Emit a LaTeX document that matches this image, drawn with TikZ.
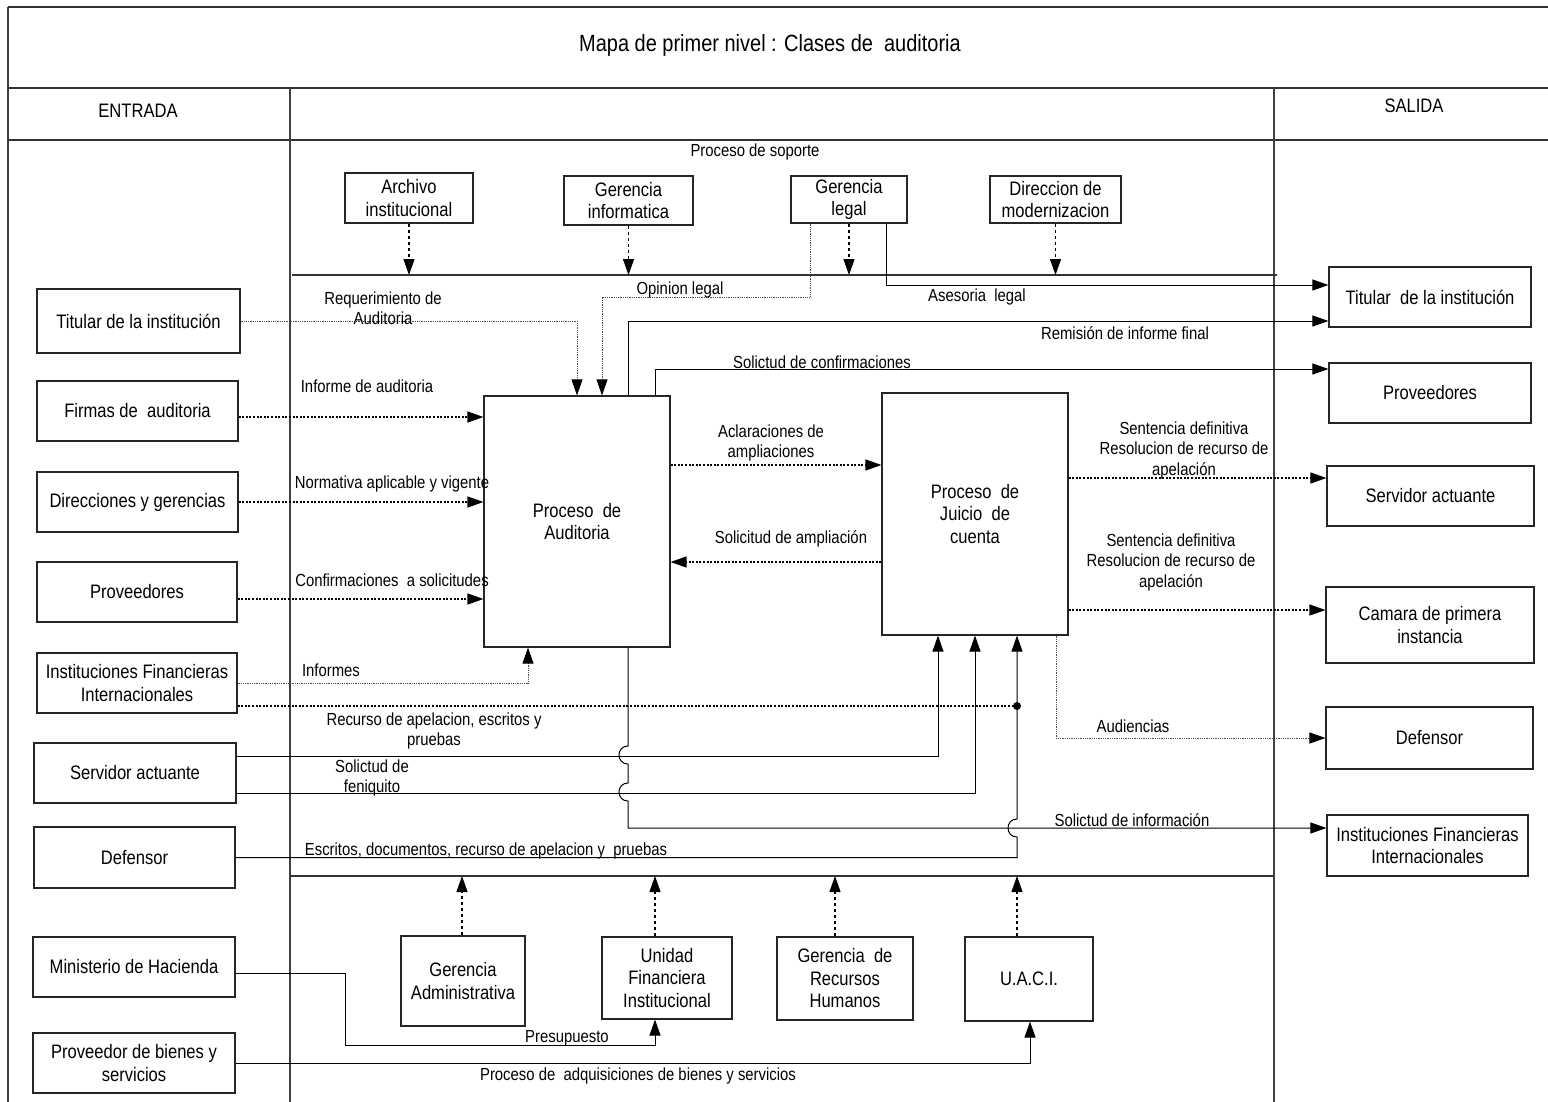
\documentclass[tikz,border=0pt]{standalone}
\usepackage{fontspec}
\setmainfont{Liberation Sans}[FakeStretch=0.85]
\usetikzlibrary{arrows.meta}
\newcommand\mapboxfont{\fontsize{19.5}{22.5}\selectfont}
\newcommand\maplblfont{\fontsize{17.5}{20.5}\selectfont}
\newcommand\maptitlefont{\fontsize{23.5}{27}\selectfont}
\begin{document}
\begin{tikzpicture}[x=1pt,y=-1pt,
  box/.style={draw=black!85, line width=1.1pt, align=center, inner sep=0pt, font=\mapboxfont},
  sz/.style 2 args={minimum width=#1pt, minimum height=#2pt},
  lbl/.style={align=center, inner sep=0pt, font=\maplblfont},
  tip/.style={-{Triangle[length=16pt,width=11pt,color=black]}},
  sol/.style={line width=1pt, black, tip},
  dshl/.style={line width=1.3pt, black, dash pattern=on 2pt off 1.6pt},
  dsh/.style={dshl, tip},
  thn/.style={line width=0.8pt, black!70, dash pattern=on 1pt off 0.8pt, tip},
  sup/.style={line width=1.2pt, black, dash pattern=on 3.5pt off 2.5pt, tip},
  lane/.style={line width=1.9pt, black!80},
  lanev/.style={line width=1.2pt, black!75},
]
\useasboundingbox (0,0) rectangle (1548,1101);

% swimlane frame
\draw[lanev] (8,1105) -- (8,7);
\draw[lane] (8,7) -- (1552,7);
\draw[lane] (8,88) -- (1552,88);
\draw[lane] (8,140) -- (1552,140);
\draw[lanev] (290,88) -- (290,1105);
\draw[lanev] (1274,88) -- (1274,1105);
\draw[lane] (292,275) -- (1277,275);
\draw[lane] (290,876) -- (1274,876);

\node[font=\maptitlefont, inner sep=0pt] (ttl) at (770,45) {Mapa de primer nivel : Clases de~ auditoria};
\node[font=\mapboxfont, inner sep=0pt] (ent) at (138,111) {ENTRADA};
\node[font=\mapboxfont, inner sep=0pt] (sal) at (1414,106) {SALIDA};
\node[lbl] (sop) at (755,152) {Proceso de soporte};

% entradas
\node[box,sz={203}{64}] (tin) at (138.5,321) {Titular de la institución};
\node[box,sz={201}{60}] (fir) at (137.5,411) {Firmas de~ auditoria};
\node[box,sz={201}{60}] (dir) at (137.5,502) {Direcciones y gerencias};
\node[box,sz={200}{60}] (prv) at (137,592) {Proveedores};
\node[box,sz={200}{60}] (ifi) at (137,683) {Instituciones Financieras\\Internacionales};
\node[box,sz={202}{60}] (sra) at (135,773) {Servidor actuante};
\node[box,sz={201}{61}] (dfn) at (134.5,857.5) {Defensor};
\node[box,sz={202}{60}] (mhc) at (134,967) {Ministerio de Hacienda};
\node[box,sz={202}{60}] (pbs) at (134,1063) {Proveedor de bienes y\\servicios};

% procesos de soporte superiores
\node[box,sz={128}{50}] (arch) at (409,198) {Archivo\\institucional};
\node[box,sz={129}{49}] (ginf) at (628.5,200.5) {Gerencia\\informatica};
\node[box,sz={116}{47}] (gleg) at (849,199.5) {Gerencia\\legal};
\node[box,sz={131}{47}] (dmod) at (1055.5,199.5) {Direccion de\\modernizacion};

% procesos principales
\node[box,sz={186}{251}] (aud) at (577,521.5) {Proceso~ de\\Auditoria};
\node[box,sz={186}{242}] (jui) at (975,514) {Proceso~ de\\Juicio~ de\\cuenta};

% salidas
\node[box,sz={202}{60}] (tout) at (1430,297) {Titular~ de la institución};
\node[box,sz={202}{60}] (pout) at (1430,393) {Proveedores};
\node[box,sz={207}{60}] (sout) at (1430.5,496) {Servidor actuante};
\node[box,sz={208}{76}] (cout) at (1430,625) {Camara de primera\\instancia};
\node[box,sz={207}{62}] (dout) at (1429.5,738) {Defensor};
\node[box,sz={201}{61}] (iout) at (1427.5,845.5) {Instituciones Financieras\\Internacionales};

% procesos de soporte inferiores
\node[box,sz={124}{90}] (gadm) at (463,981) {Gerencia\\Administrativa};
\node[box,sz={130}{82}] (ufin) at (667,978) {Unidad\\Financiera\\Institucional};
\node[box,sz={136}{83}] (grhh) at (845,978.5) {Gerencia~ de\\Recursos\\Humanos};
\node[box,sz={128}{84}] (uaci) at (1029,979) {U.A.C.I.};

% support lines
\coordinate (stop) at (0,275);
\coordinate (sbot) at (0,876);
\draw[sup] (arch.south) -- (arch.south |- stop);
\draw[sup] (ginf.south) -- (ginf.south |- stop);
\draw[sup] (gleg.south) -- (gleg.south |- stop);
\draw[sup] (dmod.south) -- (dmod.south |- stop);
\draw[sup] ([xshift=-1pt]gadm.north) -- ([xshift=-1pt]gadm.north |- sbot);
\draw[sup] ([xshift=-12pt]ufin.north) -- ([xshift=-12pt]ufin.north |- sbot);
\draw[sup] ([xshift=-10pt]grhh.north) -- ([xshift=-10pt]grhh.north |- sbot);
\draw[sup] ([xshift=-12pt]uaci.north) -- ([xshift=-12pt]uaci.north |- sbot);

% gerencia legal
\coordinate (olk) at (602,297);
\draw[thn] ([xshift=-39pt]gleg.south) |- (olk) -- ([xshift=25pt]aud.north);
\draw[sol] ([xshift=37pt]gleg.south) |- ([yshift=12pt]tout.west);

% entradas al proceso de auditoria
\draw[thn] (tin.east) -| (aud.north);
\draw[dsh] ([yshift=-6pt]fir.east) -- ([yshift=-6pt]fir.east -| aud.west);
\draw[dsh] (dir.east) -- (dir.east -| aud.west);
\draw[dsh] ([yshift=-7pt]prv.east) -- ([yshift=-7pt]prv.east -| aud.west);
\draw[thn] (ifi.east) -| ([xshift=-49pt]aud.south);

% salidas del proceso de auditoria
\draw[sol] ([xshift=51pt]aud.north) |- ([yshift=-24pt]tout.west);
\draw[sol] ([xshift=78pt]aud.north) |- ([yshift=24pt]pout.west);
\draw[dsh] ([yshift=56.5pt]aud.east) -- ([yshift=56.5pt]aud.east -| jui.west);
\draw[dsh] ([yshift=-48pt]jui.west) -- ([yshift=-48pt]jui.west -| aud.east);
\draw[sol] ([xshift=51pt]aud.south) -- (628,746)
  .. controls (616,746) and (616,764) .. (628,764) -- (628,783)
  .. controls (616,783) and (616,801) .. (628,801)
  |- ([yshift=17.5pt]iout.west);

% juicio de cuenta
\draw[dsh] ([yshift=36pt]jui.east) -- ([yshift=36pt]jui.east -| sout.west);
\draw[dsh] ([yshift=-96pt]jui.east) -- ([yshift=-96pt]jui.east -| cout.west);
\draw[thn] ([xshift=81pt]jui.south) |- (dout.west);
\draw[sol] ([yshift=17pt]sra.east) -| ([xshift=-37pt]jui.south);
\draw[sol] ([yshift=-20pt]sra.east) -| (jui.south);
\draw[sol] (dfn.east) -| (1017,837)
  .. controls (1005,837) and (1005,819) .. (1017,819)
  -- ([xshift=42pt]jui.south);
\coordinate (jn) at (1017,706);
\draw[dshl] ([yshift=-23pt]ifi.east) -- (jn);
\fill (jn) circle (4pt);

% soporte inferior
\coordinate (pb1) at (345,1045);
\draw[sol] ([yshift=-6pt]mhc.east) -| (pb1) -| ([xshift=-12pt]ufin.south);
\draw[sol] (pbs.east) -| ([xshift=1pt]uaci.south);

% etiquetas
\node[lbl] (l01) at (383,308) {Requerimiento de\\Auditoria};
\node[lbl] (l02) at (680,290) {Opinion legal};
\node[lbl] (l03) at (977,297) {Asesoria~ legal};
\node[lbl] (l04) at (1125,333) {Remisión de informe final};
\node[lbl] (l05) at (822,362) {Solictud de confirmaciones};
\node[lbl] (l06) at (367,386) {Informe de auditoria};
\node[lbl] (l07) at (771,443) {Aclaraciones de\\ampliaciones};
\node[lbl] (l08) at (1184,450) {Sentencia definitiva\\Resolucion de recurso de\\apelación};
\node[lbl] (l09) at (392,484) {Normativa aplicable y vigente};
\node[lbl] (l10) at (791,539) {Solicitud de ampliación};
\node[lbl] (l11) at (1171,562) {Sentencia definitiva\\Resolucion de recurso de\\apelación};
\node[lbl] (l12) at (392,580) {Confirmaciones~ a solicitudes};
\node[lbl] (l13) at (331,670) {Informes};
\node[lbl] (l14) at (434,731) {Recurso de apelacion, escritos y\\pruebas};
\node[lbl] (l15) at (1133,726) {Audiencias};
\node[lbl] (l16) at (372,778) {Solictud de\\feniquito};
\node[lbl] (l17) at (1132,820) {Solictud de información};
\node[lbl] (l18) at (486,851) {Escritos, documentos, recurso de apelacion y~ pruebas};
\node[lbl] (l19) at (567,1038) {Presupuesto};
\node[lbl] (l20) at (638,1076) {Proceso de~ adquisiciones de bienes y servicios};
\end{tikzpicture}
\end{document}
